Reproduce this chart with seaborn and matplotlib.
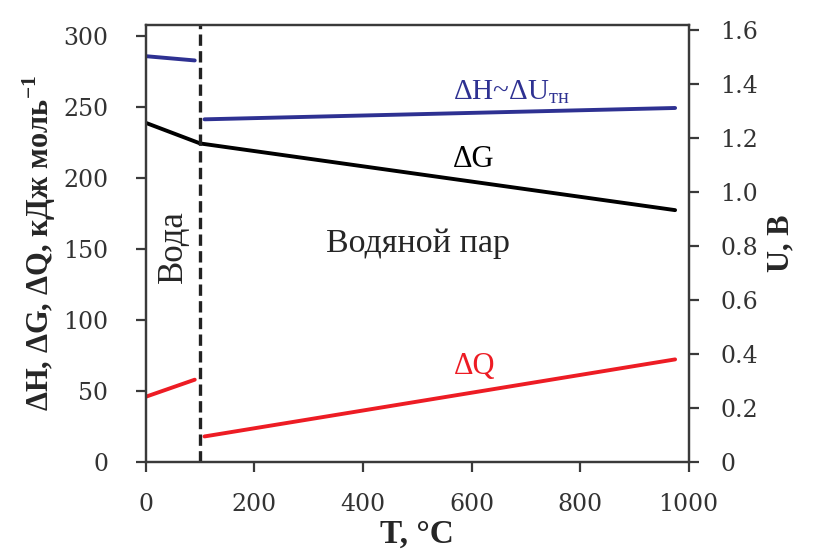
import matplotlib
matplotlib.use("Agg")
import matplotlib.pyplot as plt
import seaborn as sns
import numpy as np

sns.set_theme(style="ticks")
# tick labels use DejaVu Serif; all other text uses a Times-like serif
plt.rcParams["font.family"] = ["DejaVu Serif"]
plt.rcParams["mathtext.fontset"] = "custom"
plt.rcParams["mathtext.rm"] = "Liberation Serif"
plt.rcParams["mathtext.bf"] = "Liberation Serif:bold"
SERIF = ["Liberation Serif", "DejaVu Serif"]

# Thermodynamics of water / steam electrolysis, kJ/mol vs temperature, °C
T_water = [0, 90]
dH_water = [286, 283]
dQ_water = [46, 58]

T_G = [0, 100, 975]
dG = [239, 224.5, 177.5]

T_vapor = [108, 975]
dH_vapor = [241.5, 249.5]
dQ_vapor = [18, 72.3]

T_boil = 100

x_ticks = [0, 200, 400, 600, 800, 1000]
y_ticks = [0, 50, 100, 150, 200, 250, 300]
u_ticks = [0, 0.2, 0.4, 0.6, 0.8, 1.0, 1.2, 1.4, 1.6]
u_labels = ["0", "0.2", "0.4", "0.6", "0.8", "1.0", "1.2", "1.4", "1.6"]

BLUE = "#2e3192"
RED = "#ed1c24"
SPINE = "#3a3a3a"
TICKC = "#333333"

fig = plt.figure(figsize=(8.15, 5.55), dpi=100)
ax = fig.add_axes([0.179, 0.1676, 0.666, 0.7874])

lw = 2.8
sns.lineplot(x=T_water, y=dH_water, ax=ax, color=BLUE, lw=lw)
sns.lineplot(x=T_vapor, y=dH_vapor, ax=ax, color=BLUE, lw=lw)
sns.lineplot(x=T_G, y=dG, ax=ax, color="black", lw=lw)
sns.lineplot(x=T_water, y=dQ_water, ax=ax, color=RED, lw=lw)
sns.lineplot(x=T_vapor, y=dQ_vapor, ax=ax, color=RED, lw=lw)
ax.axvline(T_boil, color="#222222", lw=2.4, ls=(0, (3.4, 1.6)))

ax.set_xlim(0, 1000)
ax.set_ylim(0, 308)
ax.set_xticks(x_ticks, [str(v) for v in x_ticks])
ax.set_yticks(y_ticks, [str(v) for v in y_ticks])

ax2 = ax.twinx()
ax2.set_ylim(0, 1.618)
ax2.set_yticks(u_ticks, u_labels)

for a in (ax, ax2):
    for s in a.spines.values():
        s.set_visible(True)
        s.set_color(SPINE)
        s.set_linewidth(1.6)
    a.tick_params(direction="out", length=7, width=1.6, color=SPINE,
                  labelsize=17, labelcolor=TICKC)
ax.tick_params(axis="y", pad=20)
ax.tick_params(axis="x", pad=15)
ax2.tick_params(axis="y", pad=16)

ax.set_xlabel("T, °C", fontsize=24, fontweight="bold", labelpad=2,
              family=SERIF)
ax.set_ylabel("ΔH, ΔG, ΔQ, кДж моль$^{\\mathbf{-1}}$", fontsize=22,
              fontweight="bold", labelpad=4, family=SERIF)
ax2.set_ylabel("U, В", fontsize=22, fontweight="bold", labelpad=6,
               family=SERIF)

ax.text(50, 152, "Вода", rotation=90, fontsize=25, ha="center", va="center",
        family=SERIF)
ax.text(501, 154, "Водяной пар", fontsize=24.5, ha="center", va="center",
        family=SERIF)
ax.text(674, 256, "ΔH~ΔU$_{\\mathregular{тн}}$", fontsize=21, color=BLUE,
        ha="center", va="baseline", family=SERIF)
ax.text(604, 213, "ΔG", fontsize=22, color="black", ha="center", va="center",
        family=SERIF)
ax.text(606, 67.6, "ΔQ", fontsize=22, color=RED, ha="center", va="center",
        family=SERIF)

fig.savefig("out.png", dpi=100)
